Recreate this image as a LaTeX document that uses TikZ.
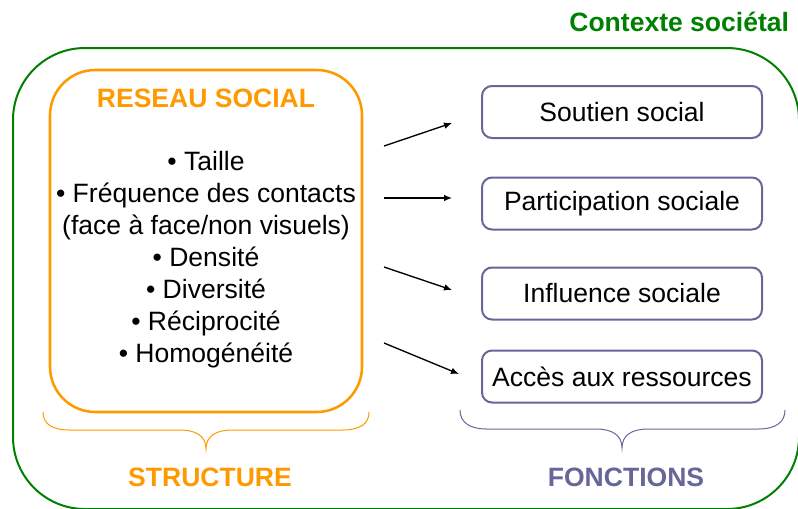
\documentclass[tikz,border=0pt]{standalone}
\usepackage{fontspec}
\setmainfont{Liberation Sans}
\usetikzlibrary{arrows.meta}

\definecolor{ctxgreen}{RGB}{0,128,0}
\definecolor{netorange}{RGB}{255,153,0}
\definecolor{fnpurple}{RGB}{102,102,153}

\tikzset{every picture/.style={line width=0.75pt}}
\tikzset{
  txt/.style={font=\fontsize{19.9}{24}\selectfont},
  bold/.style={font=\fontsize{19.9}{24}\selectfont\bfseries},
  fnbox/.style={draw=fnpurple, line width=1.5pt, rounded corners=7.5pt, minimum width=210pt, minimum height=39pt, inner sep=0pt, txt},
  arr/.style={-{Latex[length=6pt,width=5pt]}, line width=1pt},
}

\begin{document}
\begin{tikzpicture}[x=0.75pt,y=0.75pt,yscale=-1,xscale=1]
\useasboundingbox (0,0) rectangle (798,508);
\clip (0,0) rectangle (798,508);

%Shape: Rounded Rectangle, societal context
\draw [color=ctxgreen, line width=1.5pt, rounded corners=54pt]  (13,48) rectangle (799,509) ;
% Text Node
\node [bold, text=ctxgreen, anchor=east] (contexte) at (794,22) {Contexte sociétal};

%Shape: Rounded Rectangle, social network
\node [draw=netorange, line width=1.9pt, rounded corners=34pt, minimum width=234pt, minimum height=256.5pt] (reseau) at (206,241) {};
% Text Node
\node [bold, text=netorange] (titre) at (206,98) {RESEAU SOCIAL};
% Text Node
\node [txt, align=center] (items) at (206,259.5) {• Taille\\• Fréquence des contacts\\(face à face/non visuels)\\• Densité\\• Diversité\\• Réciprocité\\• Homogénéité};

%Shape: Rounded Rectangles, functions
\node [fnbox] (soutien) at (622,112) {Soutien social};
\node [fnbox] (participation) at (622,203.5) {Participation sociale};
\node [fnbox] (influence) at (622,293.5) {Influence sociale};
\node [fnbox] (acces) at (622,376.5) {Accès aux ressources};

%Straight Lines, arrows
\coordinate (s1) at (384,146);
\coordinate (e1) at (452,123);
\coordinate (s2) at (384,198);
\coordinate (e2) at (452,198);
\coordinate (s3) at (384,267);
\coordinate (e3) at (452,290);
\coordinate (s4) at (384,343);
\coordinate (e4) at (459,374);
\draw [arr] (s1) -- (e1) ;
\draw [arr] (s2) -- (e2) ;
\draw [arr] (s3) -- (e3) ;
\draw [arr] (s4) -- (e4) ;

%Shape: Brace, structure
\draw [color=netorange]  (43,412) .. controls (43,424) and (52,430) .. (70,430) -- (180,430) .. controls (196,430) and (206,436) .. (206,449) .. controls (206,436) and (216,430) .. (232,430) -- (342,430) .. controls (360,430) and (369,424) .. (369,412) ;
%Shape: Brace, functions
\draw [color=fnpurple]  (460,410) .. controls (460,422) and (469,429) .. (487,429) -- (596,429) .. controls (612,429) and (622,435) .. (622,448) .. controls (622,435) and (632,429) .. (648,429) -- (758,429) .. controls (776,429) and (785,422) .. (785,410) ;

% Text Node
\node [bold, text=netorange] (structure) at (210,477) {STRUCTURE};
% Text Node
\node [bold, text=fnpurple] (fonctions) at (626,477) {FONCTIONS};

\end{tikzpicture}
\end{document}
